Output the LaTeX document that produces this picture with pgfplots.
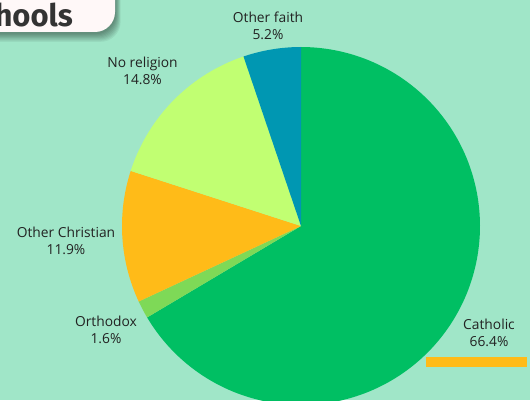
\documentclass[border=0pt]{standalone}
\usepackage{pgfplots}
\pgfplotsset{compat=1.18}
\usepackage{fontspec}
\setmainfont{Open Sans}
\newfontfamily\titlefont{Fira Sans}
\definecolor{bgc}{HTML}{A0E6C8}
\definecolor{cath}{HTML}{00BF63}
\definecolor{orth}{HTML}{7ED957}
\definecolor{ochr}{HTML}{FFBB18}
\definecolor{norel}{HTML}{C1FF72}
\definecolor{ofaith}{HTML}{0097B2}
\definecolor{txt}{HTML}{222222}
\definecolor{boxc}{HTML}{FFF8F8}
\definecolor{titc}{HTML}{333333}
\begin{document}
\begin{tikzpicture}
\def\total{99.9}
\pgfmathsetmacro\aA{90}
\pgfmathsetmacro\aB{\aA-66.4/\total*360}
\pgfmathsetmacro\aC{\aB-1.6/\total*360}
\pgfmathsetmacro\aD{\aC-11.9/\total*360}
\pgfmathsetmacro\aE{\aD-14.8/\total*360}
\pgfmathsetmacro\aF{\aE-5.2/\total*360}
\begin{axis}[hide axis, scale only axis, width=530pt, height=400pt,
  xmin=0, xmax=530, ymin=0, ymax=400, clip mode=individual]
\fill[bgc] (0,0) rectangle (530,400);
\addplot[fill=cath, draw=none, domain=\aB:\aA, samples=150] ({301+179*cos(x)},{174+179*sin(x)}) -- (301,174) -- cycle;
\addplot[fill=orth, draw=none, domain=\aC:\aB, samples=10] ({301+179*cos(x)},{174+179*sin(x)}) -- (301,174) -- cycle;
\addplot[fill=ochr, draw=none, domain=\aD:\aC, samples=40] ({301+179*cos(x)},{174+179*sin(x)}) -- (301,174) -- cycle;
\addplot[fill=norel, draw=none, domain=\aE:\aD, samples=50] ({301+179*cos(x)},{174+179*sin(x)}) -- (301,174) -- cycle;
\addplot[fill=ofaith, draw=none, domain=\aF:\aE, samples=20] ({301+179*cos(x)},{174+179*sin(x)}) -- (301,174) -- cycle;
\tikzset{lab/.style={align=center, text=txt, font=\fontsize{13.8}{16.8}\selectfont, inner sep=0pt}}
\node[lab] at (268,374.5) {Other faith\\5.2\%};
\node[lab] at (142.5,329) {No religion\\14.8\%};
\node[lab] at (66,159) {Other Christian\\11.9\%};
\node[lab] at (106,70.5) {Orthodox\\1.6\%};
\node[lab] at (489,67.5) {Catholic\\66.4\%};
\fill[ochr] (426,33) rectangle (527,43);
% title box with soft shadow
\pgfplotsinvokeforeach{1,2,3,4,5,6,7,8}{
  \fill[black, opacity=0.055, rounded corners=20pt] (-60+#1*0.6,367-#1*1.1) rectangle (115+#1*0.7,420);
}
\fill[boxc, rounded corners=20pt] (-60,368) rectangle (115,420);
\node[anchor=base east, text=titc, font=\titlefont\bfseries\fontsize{31}{34}\selectfont, inner sep=0pt] at (73,373) {Schools};
\end{axis}
\pgfresetboundingbox
\useasboundingbox (current axis.south west) rectangle (current axis.north east);
\end{tikzpicture}
\end{document}
